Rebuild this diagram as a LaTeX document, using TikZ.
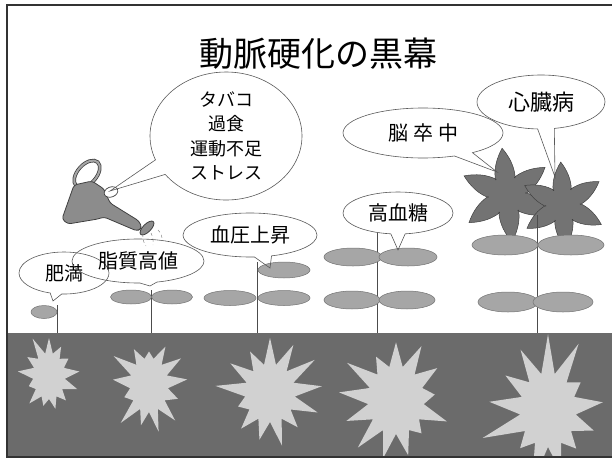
\documentclass[tikz,border=0pt]{standalone}
\usepackage{fontspec}
\newfontfamily\jp{Noto Sans CJK JP}
\usetikzlibrary{shapes.callouts,shapes.symbols}

\begin{document}
\begin{tikzpicture}[x=1pt,y=-1pt,
	bubble/.style={ellipse callout,draw=black!65,line width=0.6pt,inner sep=0pt,align=center,
		font=\jp\fontsize{20}{24}\selectfont},
	leaf/.style={fill=black!35,draw=black!55,line width=0.5pt},
	stem/.style={draw=black!70,line width=0.8pt},
	burst/.style={starburst,fill=black!18,starburst points=13,inner sep=0pt},
	flower/.style={fill=black!55,draw=black!75,line width=0.5pt},
	can/.style={fill=black!45,draw=black!75,line width=0.8pt}]
	\useasboundingbox (0,0) rectangle (612,463);

	% ground and the frame
	\fill[black!58] (7,333) rectangle (612,457);
	\begin{scope}
		\clip (7,333) rectangle (612,457);
		\foreach \x/\y/\w/\h/\p/\s in {49/376/72/86/20/11, 149/385/88/104/25/23, 270/393/114/122/32/37,
			396/400/128/140/36/41, 548/410/140/158/42/53}
			\node[burst,minimum width=\w pt,minimum height=\h pt,starburst point height=\p pt,random starburst=\s] (g\s) at (\x,\y) {};
	\end{scope}
	\draw[black!80,line width=1.4pt] (612,5) -- (7,5) -- (7,457) -- (612,457);

	\node[font=\jp\fontsize{34}{40}\selectfont] (title) at (318,54) {動脈硬化の黒幕};

	% flowers of the tallest plant
	\foreach \x/\y/\r/\a in {507/195/47/24, 563/205/43/27}
		\draw[flower,shift={(\x,\y)}] plot[domain=0:358.5,samples=240,variable=\t]
			({\t+12*sin(6*(\t-\a))}:{\r*(0.4+0.6*(1-abs(sin(3*(\t-\a))))^1.8)}) -- cycle;

	% stems and leaves
	\foreach \x/\t in {57/305, 151/290, 257/262, 377/233, 537/215}
		\draw[stem] (\x,\t) -- (\x,333);
	\foreach \x/\y/\rx/\ry in {44/312/13/6.5, 131/297/20.5/7, 172/297/20.5/7,
		230/298/26/7.5, 284/298/26/7.5, 284/270/26/8,
		353/257/29/9, 408/257/29/9, 352/300/28/9, 407/300/28/9,
		505/245/33/10, 571/245/33/10, 508/302/30/10, 563/302/30/10}
		\draw[leaf] (\x,\y) ellipse[x radius=\rx,y radius=\ry];

	% watering can
	\draw[black!75,line width=3.6pt] (87,174) ellipse[x radius=16,y radius=9.5,rotate=48];
	\draw[black!35,line width=2pt] (87,174) ellipse[x radius=16,y radius=9.5,rotate=48];
	\draw[can,rounded corners=3pt] (74,185) -- (92,181) -- (104,189) -- (110,203) -- (139,221)
		-- (142,228) -- (137,231) -- (104,217) -- (98,219) -- (68,224) -- (62,219) -- cycle;
	\draw[fill=white,draw=black!75,line width=0.7pt] (111,192) ellipse[x radius=7,y radius=5,rotate=20];
	\draw[can] (147,228) ellipse[x radius=9,y radius=4,rotate=45];
	\coordinate (mouth) at (110,191);
	\draw[black!55,line width=0.4pt,dashed] (143,234) to[bend right=20] (146,246)
		(151,233) to[bend left=15] (153,245) (158,230) to[bend left=25] (162,241);

	% callouts
	\node[bubble,minimum width=152,minimum height=128,callout absolute pointer={(mouth)},
		font=\jp\fontsize{18}{24.5}\selectfont] (risk) at (226,136) {タバコ\\過食\\運動不足\\ストレス};
	\node[bubble,minimum width=90,minimum height=42,callout absolute pointer={(53,301)},
		font=\jp\fontsize{19}{24}\selectfont] (himan) at (64,273) {肥満};
	\node[bubble,minimum width=132,minimum height=44,callout absolute pointer={(150,286)}] (shishitsu) at (138,261) {脂質高値};
	\node[bubble,minimum width=134,minimum height=44,callout absolute pointer={(270,268)}] (ketsuatsu) at (250,235) {血圧上昇};
	\node[bubble,minimum width=110,minimum height=42,callout absolute pointer={(398,250)}] (kouketto) at (398,213) {高血糖};
	\node[bubble,minimum width=160,minimum height=50,callout absolute pointer={(497,172)}] (nou) at (423,133) {脳\hspace{5pt}卒\hspace{5pt}中};
	\node[bubble,minimum width=128,minimum height=54,callout absolute pointer={(555,177)},
		font=\jp\fontsize{22}{26}\selectfont] (shinzo) at (541,102) {心臓病};
\end{tikzpicture}
\end{document}
